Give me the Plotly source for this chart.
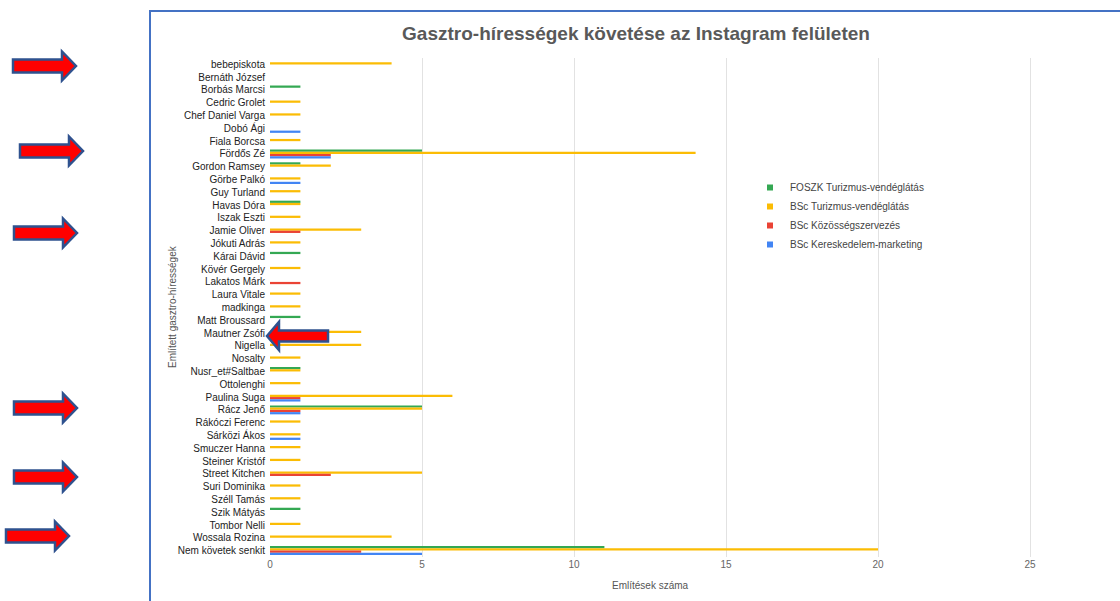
import plotly.graph_objects as go

categories = ["bebepiskota", "Bernáth József", "Borbás Marcsi", "Cedric Grolet", "Chef Daniel Varga",
              "Dobó Ági", "Fiala Borcsa", "Fördős Zé", "Gordon Ramsey", "Görbe Palkó", "Guy Turland",
              "Havas Dóra", "Iszak Eszti", "Jamie Oliver", "Jókuti Adrás", "Kárai Dávid", "Kövér Gergely",
              "Lakatos Márk", "Laura Vitale", "madkinga", "Matt Broussard", "Mautner Zsófi", "Nigella",
              "Nosalty", "Nusr_et#Saltbae", "Ottolenghi", "Paulina Suga", "Rácz Jenő", "Rákóczi Ferenc",
              "Sárközi Ákos", "Smuczer Hanna", "Steiner Kristóf", "Street Kitchen", "Suri Dominika",
              "Széll Tamás", "Szik Mátyás", "Tombor Nelli", "Wossala Rozina", "Nem követek senkit"]

foszk_tv = [0, 0, 1, 0, 0, 0, 0, 5, 1, 0, 0, 1, 0, 0, 0, 1, 0, 0, 0, 0, 1, 0, 0, 0, 1, 0, 0, 5, 0,
            0, 0, 0, 0, 0, 0, 1, 0, 0, 11]
bsc_tv = [4, 0, 0, 1, 1, 0, 1, 14, 2, 1, 1, 1, 1, 3, 1, 0, 1, 0, 1, 1, 0, 3, 3, 1, 1, 1, 6, 5, 1,
          1, 1, 1, 5, 1, 1, 0, 1, 4, 20]
bsc_ksz = [0, 0, 0, 0, 0, 0, 0, 2, 0, 0, 0, 0, 0, 1, 0, 0, 0, 1, 0, 0, 0, 0, 0, 0, 0, 0, 1, 1, 0,
           0, 0, 0, 2, 0, 0, 0, 0, 0, 3]
bsc_km = [0, 0, 0, 0, 0, 1, 0, 2, 0, 1, 0, 0, 0, 0, 0, 0, 0, 0, 0, 0, 0, 0, 0, 0, 0, 0, 1, 1, 0,
          1, 0, 0, 0, 0, 0, 0, 0, 0, 5]

series_names = ["FOSZK Turizmus-vendéglátás", "BSc Turizmus-vendéglátás",
                "BSc Közösségszervezés", "BSc Kereskedelem-marketing"]
series_values = [foszk_tv, bsc_tv, bsc_ksz, bsc_km]
colors = ["#34A853", "#FBBC04", "#EA4335", "#4285F4"]

x_ticks = [0, 5, 10, 15, 20, 25]

W, H = 1120, 601
L, R, T, B = 270, 5, 58, 44
PW, PH = W - L - R, H - T - B


def px(x):
    return (x - L) / PW


def py(y):
    return (H - B - y) / PH


fig = go.Figure()
for name, vals, col in zip(series_names, series_values, colors):
    fig.add_trace(go.Bar(y=categories, x=vals, name=name, orientation="h",
                         marker=dict(color=col, line=dict(width=0)), showlegend=False))
for name, col in zip(series_names, colors):
    fig.add_trace(go.Scatter(x=[None], y=[None], mode="markers", name=name,
                             marker=dict(symbol="square", size=6, color=col)))


def arrow_path(x0, x1, cy, head_len=14, shaft_h=6.5, head_h=14.5):
    d = 1 if x1 > x0 else -1
    hb = x1 - d * head_len
    pts = [(x0, cy - shaft_h), (hb, cy - shaft_h), (hb, cy - head_h), (x1, cy),
           (hb, cy + head_h), (hb, cy + shaft_h), (x0, cy + shaft_h)]
    s = "M " + " L ".join(f"{px(a):.5f},{py(b):.5f}" for a, b in pts) + " Z"
    return s


shapes = []
arrows = [(13, 76, 66), (20, 83, 151), (14, 77, 233), (14, 77, 408), (14, 77, 477), (6, 69, 536)]
for a in arrows:
    shapes.append(dict(type="path", xref="paper", yref="paper", path=arrow_path(*a),
                       fillcolor="#FF0000", line=dict(color="#2F528F", width=2.5), layer="above"))
shapes.append(dict(type="path", xref="paper", yref="paper",
                   path=arrow_path(328, 267, 336, head_len=12, shaft_h=5.5, head_h=14),
                   fillcolor="#FF0000", line=dict(color="#2F528F", width=2.5), layer="above"))
# frame
shapes.append(dict(type="rect", xref="paper", yref="paper", x0=px(150), x1=px(1125),
                   y0=py(606), y1=py(11), line=dict(color="#4472C4", width=2), layer="below"))

fig.update_layout(
    width=W, height=H,
    margin=dict(l=L, r=R, t=T, b=B),
    paper_bgcolor="white", plot_bgcolor="white",
    barmode="group", bargap=0.3, bargroupgap=0,
    font=dict(family="Liberation Sans, Arial, sans-serif", size=10, color="#222222"),
    title=dict(text="<b>Gasztro-hírességek követése az Instagram felületen</b>",
               x=px(636), xref="paper", xanchor="center", y=1 - 33 / H, yref="container",
               yanchor="middle",
               font=dict(family="Liberation Sans Narrow, Arial Narrow, Liberation Sans, sans-serif",
                         size=19, color="#595959")),
    xaxis=dict(range=[0, PW / 30.4], tickvals=x_ticks, showgrid=True, gridcolor="#E2E2E2",
               gridwidth=1, zeroline=False, showline=False, ticks="",
               tickfont=dict(size=10, color="#666666")),
    yaxis=dict(autorange="reversed", showgrid=False, zeroline=False, showline=False, ticks="",
               tickfont=dict(size=10, color="#222222"), ticklabelstandoff=4),
    legend=dict(x=px(750), y=py(173), xanchor="left", yanchor="top", bgcolor="rgba(0,0,0,0)",
                font=dict(size=10, color="#444444"), itemwidth=30),
    shapes=shapes,
    annotations=[
        dict(text="Említett gasztro-hírességek", xref="paper", yref="paper", x=px(172), y=py(307),
             textangle=-90, showarrow=False, font=dict(size=10, color="#555555"),
             xanchor="center", yanchor="middle"),
        dict(text="Említések száma", xref="paper", yref="paper", x=px(650), y=py(585),
             showarrow=False, font=dict(size=10, color="#555555"), xanchor="center", yanchor="middle"),
    ],
)
fig.write_html("out.html")
